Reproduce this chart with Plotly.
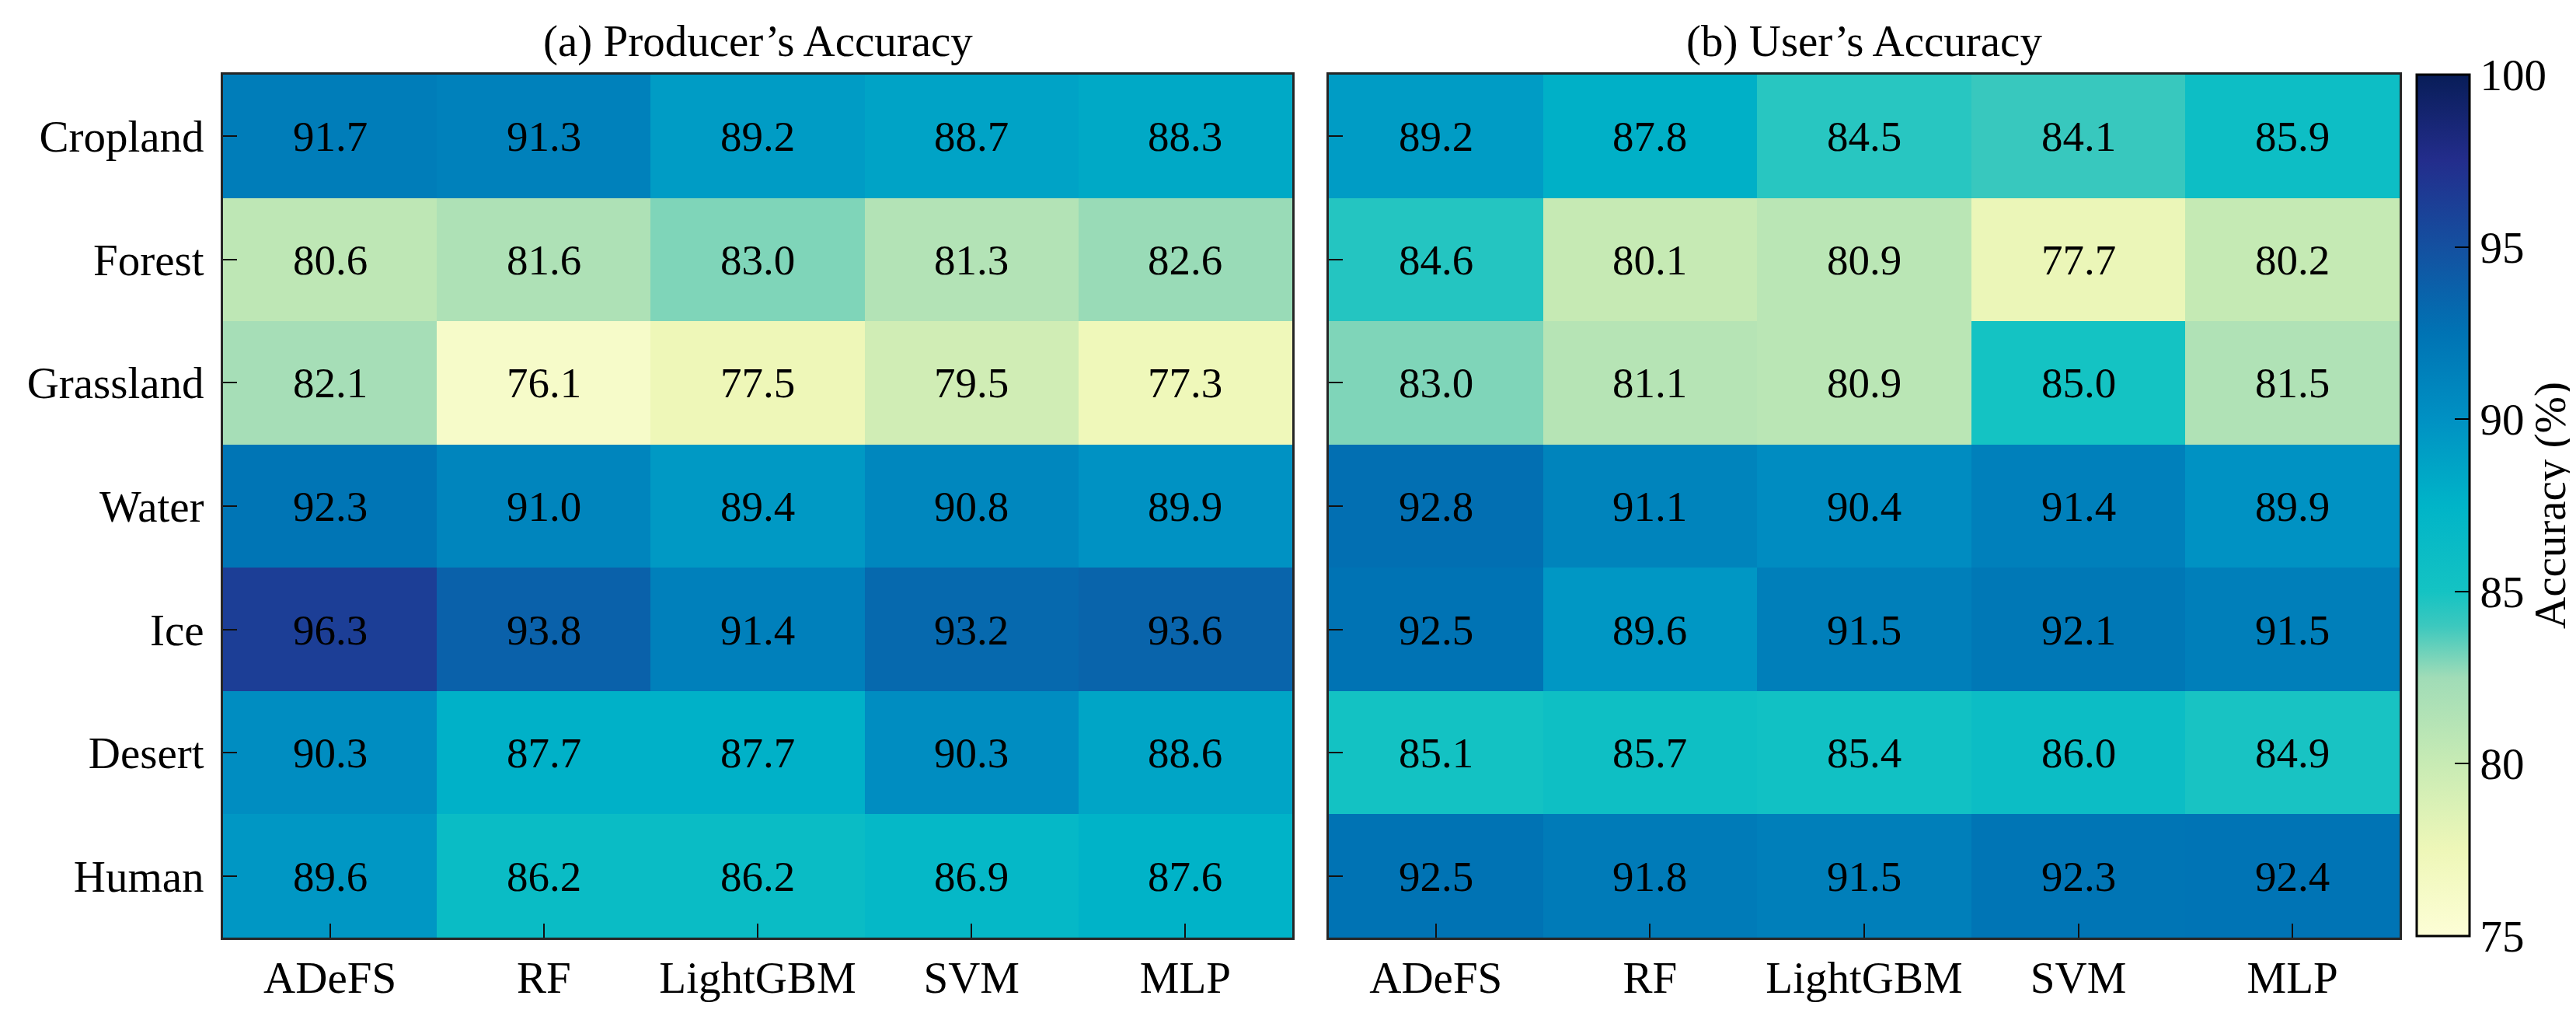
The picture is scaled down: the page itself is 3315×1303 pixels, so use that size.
import plotly.graph_objects as go

models = ["ADeFS", "RF", "LightGBM", "SVM", "MLP"]
classes = ["Cropland", "Forest", "Grassland", "Water", "Ice", "Desert", "Human"]

# producer's accuracy, rows = classes, cols = models
pa = [
    [91.7, 91.3, 89.2, 88.7, 88.3],
    [80.6, 81.6, 83.0, 81.3, 82.6],
    [82.1, 76.1, 77.5, 79.5, 77.3],
    [92.3, 91.0, 89.4, 90.8, 89.9],
    [96.3, 93.8, 91.4, 93.2, 93.6],
    [90.3, 87.7, 87.7, 90.3, 88.6],
    [89.6, 86.2, 86.2, 86.9, 87.6],
]

# user's accuracy
ua = [
    [89.2, 87.8, 84.5, 84.1, 85.9],
    [84.6, 80.1, 80.9, 77.7, 80.2],
    [83.0, 81.1, 80.9, 85.0, 81.5],
    [92.8, 91.1, 90.4, 91.4, 89.9],
    [92.5, 89.6, 91.5, 92.1, 91.5],
    [85.1, 85.7, 85.4, 86.0, 84.9],
    [92.5, 91.8, 91.5, 92.3, 92.4],
]

cbar_ticks = [75, 80, 85, 90, 95, 100]

# YlGnBu-like scale, tuned to the reference colorbar
cscale = [
    [0.0, "#fdfed6"],
    [0.1, "#eef7b8"],
    [0.2, "#c8ebb4"],
    [0.3, "#a0dcb7"],
    [0.36, "#3cc8be"],
    [0.4, "#14c3c3"],
    [0.5, "#00b4c8"],
    [0.6, "#0091c3"],
    [0.7, "#0073b4"],
    [0.8, "#1450a0"],
    [0.9, "#232d8c"],
    [1.0, "#081d58"],
]

FONT = "Liberation Serif"
W, H = 3315, 1303

fig = go.Figure()
fig.add_trace(go.Heatmap(z=pa, x=models, y=classes, coloraxis="coloraxis",
                         texttemplate="%{z:.1f}", textfont=dict(size=55, color="black", family=FONT),
                         xaxis="x", yaxis="y", hoverinfo="skip"))
fig.add_trace(go.Heatmap(z=ua, x=models, y=classes, coloraxis="coloraxis",
                         texttemplate="%{z:.1f}", textfont=dict(size=55, color="black", family=FONT),
                         xaxis="x2", yaxis="y2", hoverinfo="skip"))

ax = dict(showline=True, linecolor="#262626", linewidth=3, mirror=True,
          ticks="inside", ticklen=18, tickwidth=2, tickcolor="#111",
          tickfont=dict(size=57, family=FONT, color="black"), showgrid=False, zeroline=False)

ydom = [1 - 1198 / H, 1 - 88 / H]
x1dom = [279 / W, 1655 / W]
x2dom = [1702 / W, 3080 / W]

fig.update_layout(
    width=W, height=H,
    margin=dict(l=0, r=0, t=0, b=0),
    paper_bgcolor="white", plot_bgcolor="white",
    font=dict(family=FONT, size=57, color="black"),
    xaxis=dict(domain=x1dom, anchor="y", **ax),
    yaxis=dict(domain=ydom, anchor="x", autorange="reversed", ticklabelstandoff=10, **ax),
    xaxis2=dict(domain=x2dom, anchor="y2", **ax),
    yaxis2=dict(domain=ydom, anchor="x2", autorange="reversed", showticklabels=False, **ax),
    coloraxis=dict(
        colorscale=cscale, cmin=75, cmax=100,
        colorbar=dict(
            x=3102 / W, xanchor="left", xpad=0,
            y=1 - 1196 / H, yanchor="bottom", ypad=0,
            len=(1196 - 88) / H, lenmode="fraction",
            thickness=68, thicknessmode="pixels",
            outlinecolor="black", outlinewidth=3,
            tickvals=cbar_ticks, ticks="inside", ticklen=20, tickwidth=2, tickcolor="black",
            tickfont=dict(size=57, family=FONT, color="black"),
            title=dict(text="Accuracy (%)", side="right", font=dict(size=57, family=FONT)),
        ),
    ),
    annotations=[
        dict(text="(a) Producer’s Accuracy", x=sum(x1dom) / 2, y=1 - 45 / H,
             xref="paper", yref="paper", showarrow=False, xanchor="center", yanchor="middle",
             font=dict(size=57, family=FONT, color="black")),
        dict(text="(b) User’s Accuracy", x=sum(x2dom) / 2, y=1 - 45 / H,
             xref="paper", yref="paper", showarrow=False, xanchor="center", yanchor="middle",
             font=dict(size=57, family=FONT, color="black")),
    ],
)

fig.write_html("out.html")
